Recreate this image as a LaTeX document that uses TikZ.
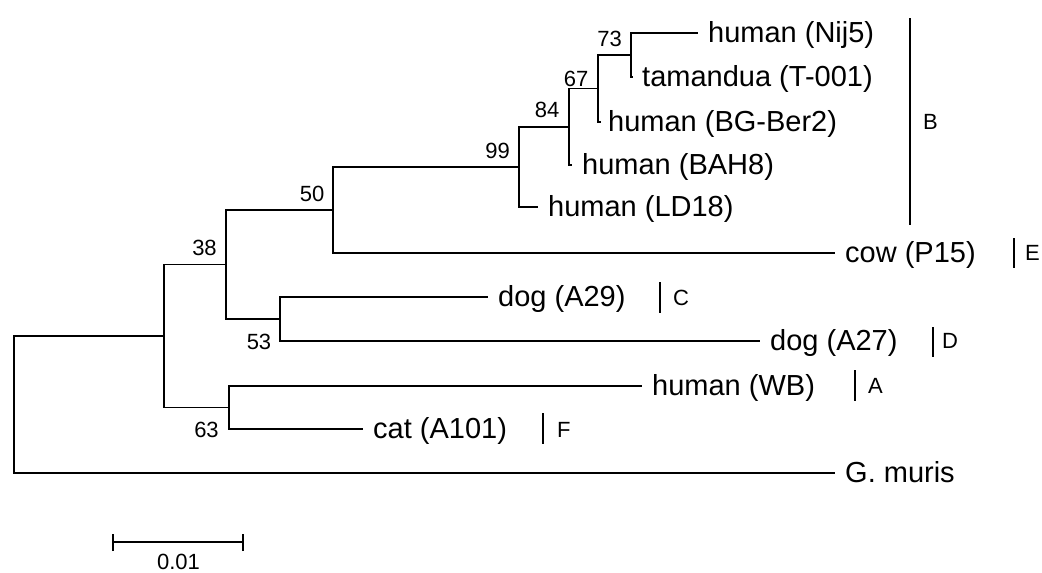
\documentclass[tikz,border=0pt]{standalone}
\usepackage{fontspec}
\setmainfont{Liberation Sans}
\begin{document}
\begin{tikzpicture}[x=1pt,y=-1pt,
  branch/.style={line width=1.6pt},
  leaf/.style={anchor=base west,inner sep=0pt,font=\fontsize{29}{35}\selectfont},
  boot/.style={inner sep=0pt,font=\fontsize{22}{26}\selectfont},
  grp/.style={anchor=west,inner sep=0pt,font=\fontsize{22}{26}\selectfont},
  gbar/.style={line width=1.6pt}]
\useasboundingbox (0,0) rectangle (1042,573);
% internal nodes
\coordinate (root) at (14,404.5);
\coordinate (n1) at (164,336);
\coordinate (n38) at (226,264.5);
\coordinate (n50) at (333,210);
\coordinate (n99) at (519,167);
\coordinate (n84) at (569,126.75);
\coordinate (n67) at (598,88.5);
\coordinate (n73) at (631,55);
\coordinate (n53) at (280,319);
\coordinate (n63) at (229,407.5);
% leaf ends
\coordinate (tNij) at (698,33);
\coordinate (tTam) at (633,77);
\coordinate (tBG) at (601,122);
\coordinate (tBAH) at (572,165);
\coordinate (tLD) at (538,207);
\coordinate (tCow) at (835,253);
\coordinate (tA29) at (488,297);
\coordinate (tA27) at (760,341);
\coordinate (tWB) at (642,386);
\coordinate (tCat) at (363,429);
\coordinate (tGm) at (835,473);
% leaf labels
\node[leaf] (lNij) at (708,42) {human (Nij5)};
\node[leaf] (lTam) at (642,86) {tamandua (T-001)};
\node[leaf] (lBG) at (608,131) {human (BG-Ber2)};
\node[leaf] (lBAH) at (582,174) {human (BAH8)};
\node[leaf] (lLD) at (548,216) {human (LD18)};
\node[leaf] (lCow) at (845,262) {cow (P15)};
\node[leaf] (lA29) at (498,306) {dog (A29)};
\node[leaf] (lA27) at (770,350) {dog (A27)};
\node[leaf] (lWB) at (652,395) {human (WB)};
\node[leaf] (lCat) at (373,438) {cat (A101)};
\node[leaf] (lGm) at (845,482) {G. muris};
% branches
\draw[branch] (root) |- (n1);
\draw[branch] (root) |- (tGm);
\draw[branch] (n1) |- (n38);
\draw[branch] (n1) |- (n63);
\draw[branch] (n38) |- (n50);
\draw[branch] (n38) |- (n53);
\draw[branch] (n50) |- (n99);
\draw[branch] (n50) |- (tCow);
\draw[branch] (n99) |- (n84);
\draw[branch] (n99) |- (tLD);
\draw[branch] (n84) |- (n67);
\draw[branch] (n84) |- (tBAH);
\draw[branch] (n67) |- (n73);
\draw[branch] (n67) |- (tBG);
\draw[branch] (n73) |- (tNij);
\draw[branch] (n73) |- (tTam);
\draw[branch] (n53) |- (tA29);
\draw[branch] (n53) |- (tA27);
\draw[branch] (n63) |- (tWB);
\draw[branch] (n63) |- (tCat);
% bootstrap values
\node[boot] (b73) at (609.5,38.5) {73};
\node[boot] (b67) at (576,78.5) {67};
\node[boot] (b84) at (547,110) {84};
\node[boot] (b99) at (497.5,150.5) {99};
\node[boot] (b50) at (312,194) {50};
\node[boot] (b38) at (204.5,248) {38};
\node[boot] (b53) at (259,342) {53};
\node[boot] (b63) at (206.5,430) {63};
% group bars
\coordinate (gBt) at (910,18); \coordinate (gBb) at (910,225);
\draw[gbar] (gBt) -- (gBb);
\node[grp] (gB) at (923,122) {B};
\coordinate (gEt) at (1014,238); \coordinate (gEb) at (1014,268);
\draw[gbar] (gEt) -- (gEb);
\node[grp] (gE) at (1025,253) {E};
\coordinate (gCt) at (660,282); \coordinate (gCb) at (660,313);
\draw[gbar] (gCt) -- (gCb);
\node[grp] (gC) at (673,298) {C};
\coordinate (gDt) at (933,327); \coordinate (gDb) at (933,357);
\draw[gbar] (gDt) -- (gDb);
\node[grp] (gD) at (942,341) {D};
\coordinate (gAt) at (855,370); \coordinate (gAb) at (855,401);
\draw[gbar] (gAt) -- (gAb);
\node[grp] (gA) at (868,386) {A};
\coordinate (gFt) at (543,413); \coordinate (gFb) at (543,444);
\draw[gbar] (gFt) -- (gFb);
\node[grp] (gF) at (557,430) {F};
% scale bar
\coordinate (s1) at (113,542); \coordinate (s2) at (243,542);
\draw[branch] (s1) -- (s2);
\draw[branch] ([yshift=-9pt]s1) -- ([yshift=8pt]s1);
\draw[branch] ([yshift=-9pt]s2) -- ([yshift=8pt]s2);
\node[boot,font=\fontsize{22}{26}\selectfont] (sl) at (178.5,562) {0.01};
\end{tikzpicture}
\end{document}
